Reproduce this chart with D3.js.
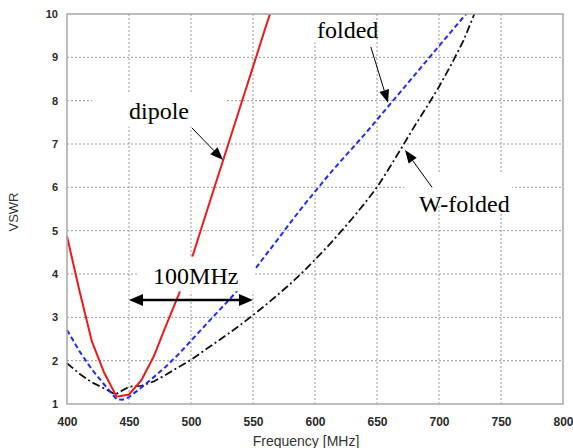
<!DOCTYPE html>
<html>
<head>
<meta charset="utf-8">
<script src="https://cdn.jsdelivr.net/npm/d3@7"></script>
<style>
  html, body { margin: 0; padding: 0; background: #fff; }
  svg { display: block; }
</style>
</head>
<body>
<svg id="chart" width="573" height="448"></svg>
<script>
// ---------- data ----------
const xTicks = [400, 450, 500, 550, 600, 650, 700, 750, 800];
const yTicks = [1, 2, 3, 4, 5, 6, 7, 8, 9, 10];

const dipoleFreq = [400, 410, 420, 430, 440, 450, 460, 470, 480, 490, 500, 510, 520, 530, 540, 550, 560, 563.7];
const dipoleVSWR = [4.87, 3.62, 2.45, 1.72, 1.17, 1.22, 1.55, 2.1, 2.82, 3.52, 4.3, 5.2, 6.1, 6.99, 7.89, 8.78, 9.68, 10];

const foldedFreq = [400, 410, 420, 430, 440, 445, 450, 460, 470, 480, 490, 500, 510, 520, 530, 540, 550, 560, 570, 580, 590, 600, 610, 620, 630, 640, 650, 660, 670, 680, 690, 700, 710, 720, 722];
const foldedVSWR = [2.71, 2.22, 1.8, 1.45, 1.11, 1.1, 1.16, 1.38, 1.62, 1.87, 2.15, 2.46, 2.77, 3.08, 3.38, 3.7, 4.05, 4.43, 4.8, 5.18, 5.55, 5.9, 6.25, 6.58, 6.9, 7.22, 7.56, 7.9, 8.24, 8.58, 8.92, 9.26, 9.6, 9.94, 10];

const wfoldedFreq = [400, 410, 420, 430, 439, 450, 460, 470, 480, 490, 500, 510, 520, 530, 540, 550, 560, 570, 580, 590, 600, 610, 620, 630, 640, 650, 660, 670, 680, 690, 700, 710, 720, 728.5];
const wfoldedVSWR = [1.94, 1.7, 1.5, 1.36, 1.22, 1.4, 1.42, 1.52, 1.68, 1.85, 2.02, 2.22, 2.42, 2.62, 2.83, 3.05, 3.28, 3.52, 3.77, 4.04, 4.33, 4.63, 4.95, 5.28, 5.63, 6.0, 6.45, 6.92, 7.4, 7.85, 8.32, 8.84, 9.4, 10];

const seriesNames = ["dipole", "folded", "W-folded"];

// ---------- layout ----------
const svg = d3.select("#chart");
const plot = { left: 67, right: 563, top: 14, bottom: 404 };
const x = d3.scaleLinear().domain([400, 800]).range([plot.left, plot.right]);
const y = d3.scaleLinear().domain([1, 10]).range([plot.bottom, plot.top]);

const gridColor = "#9a9a9a";
const frameColor = "#a8a8a8";

// grid
const grid = svg.append("g");
grid.selectAll("line.vg").data(xTicks.slice(1, -1)).join("line")
  .attr("x1", d => x(d)).attr("x2", d => x(d))
  .attr("y1", plot.top).attr("y2", plot.bottom)
  .attr("stroke", gridColor).attr("stroke-width", 1).attr("stroke-dasharray", "2,2");
grid.selectAll("line.hg").data(yTicks.slice(1, -1)).join("line")
  .attr("x1", plot.left).attr("x2", plot.right)
  .attr("y1", d => y(d)).attr("y2", d => y(d))
  .attr("stroke", gridColor).attr("stroke-width", 1).attr("stroke-dasharray", "2,2");

// curves
const line = d3.line().x(d => x(d[0])).y(d => y(d[1])).curve(d3.curveLinear);
const zip = (a, b) => a.map((v, i) => [v, b[i]]);
const curves = svg.append("g");
curves.append("path").datum(zip(wfoldedFreq, wfoldedVSWR))
  .attr("d", line).attr("fill", "none").attr("stroke", "#111")
  .attr("stroke-width", 1.8).attr("stroke-dasharray", "8,3,2,3");
curves.append("path").datum(zip(foldedFreq, foldedVSWR))
  .attr("d", line).attr("fill", "none").attr("stroke", "#1f2cf0")
  .attr("stroke-width", 2).attr("stroke-dasharray", "5,3");
curves.append("path").datum(zip(dipoleFreq, dipoleVSWR))
  .attr("d", line).attr("fill", "none").attr("stroke", "#f01818")
  .attr("stroke-width", 2);

// annotation boxes (white, covering grid & curves)
const boxes = [
  { f0: 420.2, f1: 527.4, v0: 7.4, v1: 8.2 },    // dipole
  { f0: 590.5, f1: 647, v0: 9.34, v1: 10 },      // folded
  { f0: 672, f1: 759, v0: 5.6, v1: 6.33 },       // W-folded
  { f0: 457.3, f1: 551.7, v0: 3.6, v1: 4.4 }     // 100MHz
];
svg.append("g").selectAll("rect").data(boxes).join("rect")
  .attr("x", d => x(d.f0)).attr("y", d => y(d.v1))
  .attr("width", d => x(d.f1) - x(d.f0)).attr("height", d => y(d.v0) - y(d.v1))
  .attr("fill", "#fff");

// frame
svg.append("rect")
  .attr("x", plot.left).attr("y", plot.top)
  .attr("width", plot.right - plot.left).attr("height", plot.bottom - plot.top)
  .attr("fill", "none").attr("stroke", frameColor).attr("stroke-width", 1.5);

// axes tick labels
const xAxis = d3.axisBottom(x).tickValues(xTicks).tickSize(0).tickPadding(13);
const gx = svg.append("g").attr("transform", `translate(0,${plot.bottom})`).call(xAxis);
const yAxis = d3.axisLeft(y).tickValues(yTicks).tickSize(0).tickPadding(9);
const gy = svg.append("g").attr("transform", `translate(${plot.left},0)`).call(yAxis);
[gx, gy].forEach(g => {
  g.select(".domain").remove();
  g.selectAll("text").attr("font-family", "Arial, 'Liberation Sans', sans-serif")
    .attr("font-size", 12).attr("fill", "#2a2a2a").attr("font-weight", "bold");
});
gy.selectAll("text").attr("font-size", 11);

// axis titles
svg.append("text").attr("x", 306).attr("y", 446).attr("text-anchor", "middle")
  .attr("font-family", "Arial, 'Liberation Sans', sans-serif").attr("font-size", 14)
  .attr("fill", "#333").text("Frequency [MHz]");
svg.append("text").attr("transform", "translate(18,212) rotate(-90)").attr("text-anchor", "middle")
  .attr("font-family", "Arial, 'Liberation Sans', sans-serif").attr("font-size", 13)
  .attr("fill", "#333").text("VSWR");

// annotation texts
const serif = "'Liberation Serif', 'Times New Roman', serif";
const labels = [
  { text: seriesNames[0], f: 450, v: 7.58 },
  { text: seriesNames[1], f: 601.6, v: 9.45 },
  { text: seriesNames[2], f: 683.9, v: 5.43 },
  { text: "100MHz", f: 469.4, v: 3.77 }
];
svg.append("g").selectAll("text").data(labels).join("text")
  .attr("x", d => x(d.f)).attr("y", d => y(d.v))
  .attr("font-family", serif).attr("font-size", 24).attr("fill", "#000")
  .text(d => d.text);

// arrows
function arrowHead(g, x0, y0, x1, y1, len, wid) {
  const a = Math.atan2(y1 - y0, x1 - x0);
  const bx = x1 - len * Math.cos(a), by = y1 - len * Math.sin(a);
  const px = -Math.sin(a) * wid / 2, py = Math.cos(a) * wid / 2;
  g.append("path")
    .attr("d", `M${x1},${y1}L${bx + px},${by + py}L${bx - px},${by - py}Z`)
    .attr("fill", "#000");
  return [bx, by];
}
const pointers = [
  { f0: 500.8, v0: 7.37, f1: 525.8, v1: 6.63 },
  { f0: 645, v0: 9.24, f1: 658.9, v1: 7.95 },
  { f0: 694.4, v0: 6.0, f1: 672.6, v1: 6.86 }
];
const ag = svg.append("g");
pointers.forEach(p => {
  const x0 = x(p.f0), y0 = y(p.v0), x1 = x(p.f1), y1 = y(p.v1);
  const [bx, by] = arrowHead(ag, x0, y0, x1, y1, 13, 10);
  ag.append("line").attr("x1", x0).attr("y1", y0).attr("x2", bx).attr("y2", by)
    .attr("stroke", "#000").attr("stroke-width", 1);
});
// 100 MHz bandwidth arrow
const bw = { f0: 450, f1: 550, v: 3.4 };
{
  const x0 = x(bw.f0), x1 = x(bw.f1), yy = y(bw.v);
  const [bx1] = arrowHead(ag, x0, yy, x1, yy, 14, 12);
  const [bx0] = arrowHead(ag, x1, yy, x0, yy, 14, 12);
  ag.append("line").attr("x1", bx0).attr("y1", yy).attr("x2", bx1).attr("y2", yy)
    .attr("stroke", "#000").attr("stroke-width", 2.5);
}
</script>
</body>
</html>
